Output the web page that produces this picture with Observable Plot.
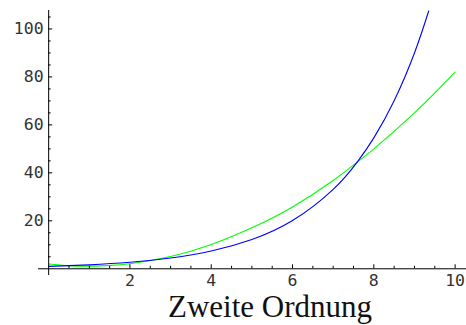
<!DOCTYPE html>
<html>
<head>
<meta charset="utf-8">
<script src="https://cdn.jsdelivr.net/npm/d3@7"></script>
<script src="https://cdn.jsdelivr.net/npm/@observablehq/plot@0.6"></script>
<style>
  html, body { margin: 0; padding: 0; background: #fff; }
  #wrap { position: relative; width: 466px; height: 325px; overflow: hidden; }
  #title { position: absolute; left: 0; top: 294px; width: 466px; box-sizing: border-box;
    padding-left: 74px; text-align: center; font-family: "Liberation Serif", "DejaVu Serif", serif;
    font-size: 31px; line-height: 26px; height: 26px; color: #111; }
</style>
</head>
<body>
<div id="wrap"><div id="chart"></div><div id="title"></div></div>
<script>
const titleText = "Zweite Ordnung";
const blueX = [0, 1, 2, 3, 4, 5, 6, 7, 7.6, 8, 8.5, 9, 9.35];
const blueY = [1.0, 1.65, 2.7, 4.5, 7.4, 12.2, 20.1, 33.1, 44.7, 54.6, 70.1, 90.0, 107.5];
const greenX = [0, 0.5, 1, 1.5, 2, 3, 4, 5, 6, 7, 7.6, 8, 9, 10];
const greenY = [2.0, 1.3, 1.1, 1.4, 2.1, 5.1, 10.1, 17.1, 25.8, 36.8, 44.6, 50.0, 65.0, 82.0];
const xMajor = [2, 4, 6, 8, 10];
const xMinor = [0.5, 1, 1.5, 2.5, 3, 3.5, 4.5, 5, 5.5, 6.5, 7, 7.5, 8.5, 9, 9.5, 10.5];
const yMajor = [20, 40, 60, 80, 100];
const yMinor = [5, 10, 15, 25, 30, 35, 45, 50, 55, 65, 70, 75, 85, 90, 95, 105];

document.getElementById("title").textContent = titleText;

const blue = blueX.map((x, i) => ({x, y: blueY[i]}));
const green = greenX.map((x, i) => ({x, y: greenY[i]}));

const xDom = [-0.25, 10.28], yDom = [-2.8, 107.7];
const pxX = (466 - 38) / (xDom[1] - xDom[0]);
const pxY = (275 - 10) / (yDom[1] - yDom[0]);
const mono = "DejaVu Sans Mono, monospace";

const plot = Plot.plot({
  width: 466, height: 290,
  marginLeft: 38, marginRight: 0, marginTop: 10, marginBottom: 15,
  x: {domain: xDom, axis: null},
  y: {domain: yDom, axis: null},
  marks: [
    Plot.line(green, {x: "x", y: "y", stroke: "#00ff00", strokeWidth: 1.1, curve: "natural", clip: true}),
    Plot.line(blue, {x: "x", y: "y", stroke: "#0000ff", strokeWidth: 1.1, curve: "natural", clip: true}),
    Plot.ruleY([0], {x1: xDom[0], x2: xDom[1], stroke: "#000", strokeWidth: 1}),
    Plot.ruleX([0], {y1: yDom[0], y2: yDom[1], stroke: "#000", strokeWidth: 1}),
    Plot.ruleX(xMajor, {x: d => d, y1: 0, y2: 4 / pxY, stroke: "#000"}),
    Plot.ruleX(xMinor, {x: d => d, y1: 0, y2: 2.5 / pxY, stroke: "#000"}),
    Plot.ruleY(yMajor, {y: d => d, x1: 0, x2: 4 / pxX, stroke: "#000"}),
    Plot.ruleY(yMinor, {y: d => d, x1: 0, x2: 2.5 / pxX, stroke: "#000"}),
    Plot.text(xMajor, {x: d => d, y: 0, text: d => String(d), dy: 12, fontFamily: mono, fontSize: 16.5, fill: "#333"}),
    Plot.text(yMajor, {x: 0, y: d => d, text: d => String(d), textAnchor: "end", dx: -5, fontFamily: mono, fontSize: 16.5, fill: "#333"})
  ]
});
document.getElementById("chart").appendChild(plot);
</script>
</body>
</html>
